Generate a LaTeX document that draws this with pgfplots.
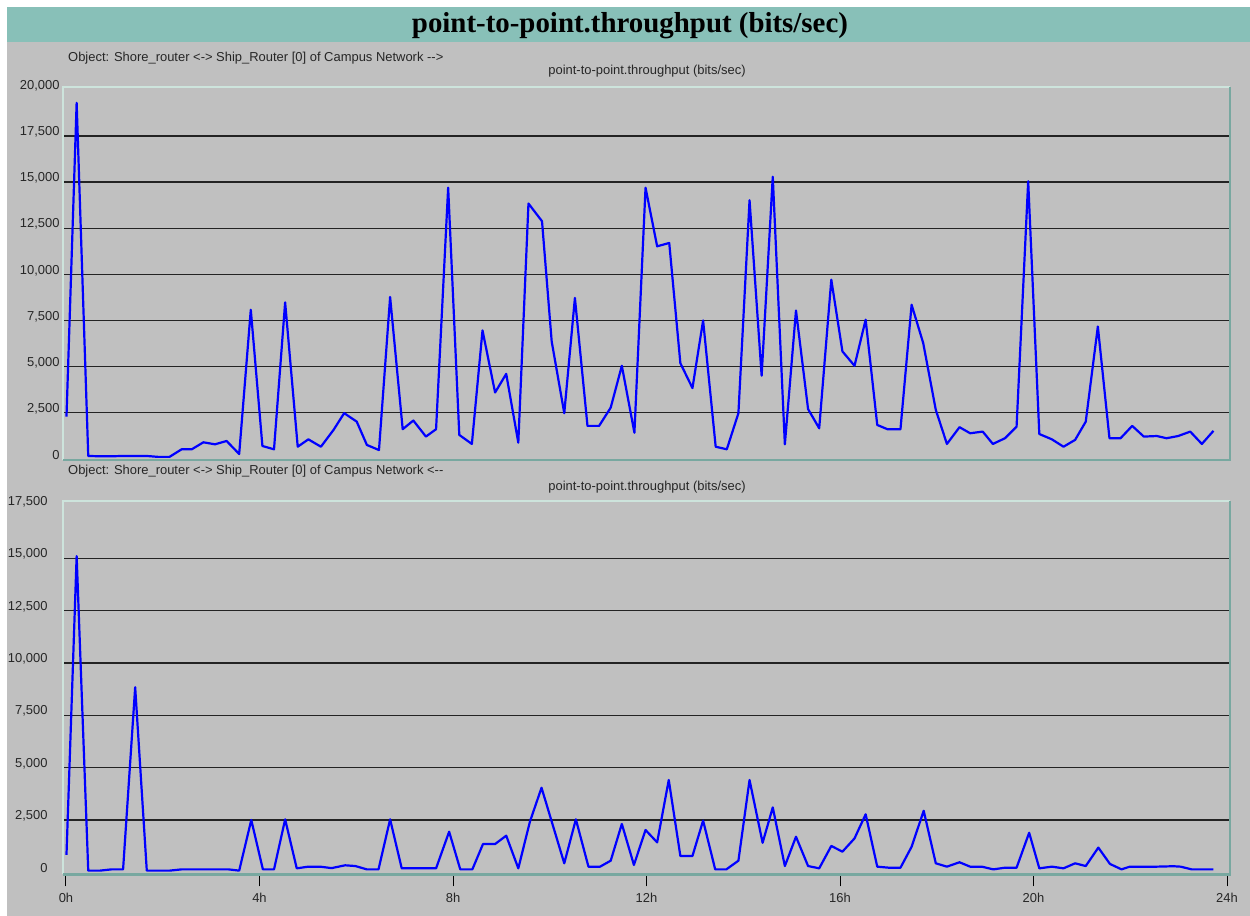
\documentclass[border=0pt]{standalone}
\usepackage{pgfplots}
\pgfplotsset{compat=1.18}
\usepackage{fontspec}
\setmainfont{Liberation Sans}
\newfontfamily\titlefont{Liberation Serif}

\definecolor{bandteal}{RGB}{136,192,184}
\definecolor{panelgray}{RGB}{192,192,192}
\definecolor{framelight}{RGB}{205,228,220}
\definecolor{framedark}{RGB}{120,168,160}
\definecolor{gridc}{RGB}{35,35,35}
\definecolor{traceblue}{RGB}{0,0,255}

\pgfplotsset{
  panel/.style={
    at={(63bp,#1)}, anchor=south west,
    scale only axis, width=1167bp, height=373bp,
    xmin=-0.062, xmax=24.062,
    axis line style={draw=none},
    ymajorgrids, grid style={gridc, line width=1.4bp},
    ytick style={draw=none},
    extra y tick style={grid=none},
    scaled y ticks=false,
    /pgf/number format/assume math mode=true,
    /pgf/number format/1000 sep={,},
    ticklabel style={font=\fontsize{13}{15}\selectfont, text=black!85},
    yticklabel style={yshift=4bp},
    clip mode=individual,
  },
  trace/.style={traceblue, line width=2.2bp, line join=round},
}

\newcommand{\panelframe}{%
  \draw[framelight, line width=2bp] (rel axis cs:0,0) -- (rel axis cs:0,1) -- (rel axis cs:1,1);
  \draw[framedark, line width=2.6bp] (rel axis cs:0,0) -- (rel axis cs:1,0) -- (rel axis cs:1,1);
}

\begin{document}
\begin{tikzpicture}
% window background
\fill[white] (0bp,0bp) rectangle (1250bp,916bp);
\fill[panelgray] (7bp,0bp) rectangle (1250bp,874bp);
\fill[bandteal] (7bp,874bp) rectangle (1250bp,909bp);
\node[anchor=base, inner sep=0pt, font=\titlefont\bfseries\fontsize{29}{31}\selectfont]
  at (630bp,883bp) {point-to-point.throughput (bits/sec)};

\node[anchor=base west, inner sep=0pt, font=\fontsize{13}{15}\selectfont, text=black!85]
  at (68bp,854.5bp) {Object: Shore\_router <-> Ship\_Router [0] of Campus Network -{}->};
\node[anchor=base, inner sep=0pt, font=\fontsize{13}{15}\selectfont, text=black!85]
  at (647bp,841bp) {point-to-point.throughput (bits/sec)};

\node[anchor=base west, inner sep=0pt, font=\fontsize{13}{15}\selectfont, text=black!85]
  at (68bp,441.5bp) {Object: Shore\_router <-> Ship\_Router [0] of Campus Network <-{}-};
\node[anchor=base, inner sep=0pt, font=\fontsize{13}{15}\selectfont, text=black!85]
  at (647bp,425.5bp) {point-to-point.throughput (bits/sec)};

% outgoing direction
\begin{axis}[panel=456bp,
  ymin=-70, ymax=20160,
  ytick={2500,5000,7500,10000,12500,15000,17500},
  extra y ticks={0,20000},
  xtick=\empty,
]
\panelframe
\addplot[trace] table {
t v
0.01 2280
0.22 19300
0.46 150
0.70 130
0.94 130
1.18 150
1.42 150
1.66 150
1.90 100
2.14 100
2.39 510
2.60 510
2.84 890
3.08 780
3.32 960
3.58 255
3.82 8080
4.06 690
4.30 510
4.53 8480
4.79 650
5.01 1050
5.27 650
5.53 1560
5.75 2470
6.01 2010
6.22 745
6.47 470
6.70 8770
6.96 1600
7.18 2070
7.44 1200
7.65 1600
7.90 14700
8.13 1290
8.39 800
8.61 6960
8.87 3590
9.10 4600
9.35 870
9.56 13840
9.84 12880
10.04 6360
10.30 2470
10.52 8720
10.78 1780
11.02 1780
11.26 2770
11.49 5040
11.75 1410
11.98 14700
12.22 11520
12.47 11700
12.70 5180
12.95 3830
13.17 7500
13.43 650
13.66 510
13.90 2470
14.13 14020
14.38 4500
14.61 15290
14.86 780
15.09 8040
15.34 2690
15.57 1650
15.82 9710
16.05 5820
16.30 5040
16.53 7540
16.77 1830
16.98 1600
17.25 1600
17.48 8350
17.72 6270
17.98 2650
18.21 800
18.47 1710
18.69 1380
18.95 1470
19.16 800
19.41 1110
19.65 1740
19.89 15050
20.12 1340
20.38 1050
20.62 650
20.86 1020
21.08 2010
21.33 7170
21.57 1110
21.80 1110
22.04 1780
22.28 1200
22.55 1230
22.75 1110
22.99 1230
23.24 1470
23.48 800
23.72 1510
};
\end{axis}

% incoming direction
\begin{axis}[panel=41.7bp,
  ymin=-95, ymax=17720,
  ytick={2500,5000,7500,10000,12500,15000},
  extra y ticks={0,17500},
  xtick={0,4,8,12,16,20,24},
  xticklabels={0h,4h,8h,12h,16h,20h,24h},
  xtick pos=bottom,
  xtick style={black, line width=1bp},
  xticklabel style={yshift=-3bp},
  major tick length=12bp, tick align=outside,
]
\panelframe
\addplot[trace] table {
t v
0.01 830
0.22 15100
0.46 80
0.70 80
0.94 140
1.18 140
1.43 8840
1.67 80
1.90 80
2.14 80
2.39 140
2.63 140
2.87 140
3.11 140
3.36 140
3.58 80
3.83 2500
4.07 140
4.30 140
4.53 2530
4.77 190
5.01 270
5.25 270
5.49 200
5.77 335
5.98 300
6.22 140
6.46 140
6.70 2530
6.94 190
7.18 190
7.42 190
7.65 190
7.92 1940
8.15 140
8.40 140
8.62 1350
8.87 1350
9.10 1750
9.35 190
9.59 2420
9.83 4040
10.30 430
10.54 2530
10.80 270
11.04 270
11.26 555
11.49 2310
11.74 350
11.98 2020
12.22 1430
12.46 4410
12.70 780
12.95 780
13.17 2470
13.42 140
13.65 140
13.90 555
14.13 4410
14.40 1410
14.61 3100
14.86 300
15.09 1700
15.34 300
15.57 190
15.82 1260
16.05 985
16.30 1620
16.53 2770
16.77 270
17.01 220
17.25 220
17.48 1220
17.73 2940
17.98 430
18.21 270
18.47 480
18.69 270
18.93 270
19.17 140
19.41 220
19.65 220
19.91 1890
20.12 190
20.38 270
20.62 190
20.86 430
21.08 300
21.34 1180
21.58 400
21.82 140
21.99 270
22.28 270
22.55 270
22.89 290
23.04 270
23.27 140
23.72 140
};
\end{axis}
\end{tikzpicture}
\end{document}
